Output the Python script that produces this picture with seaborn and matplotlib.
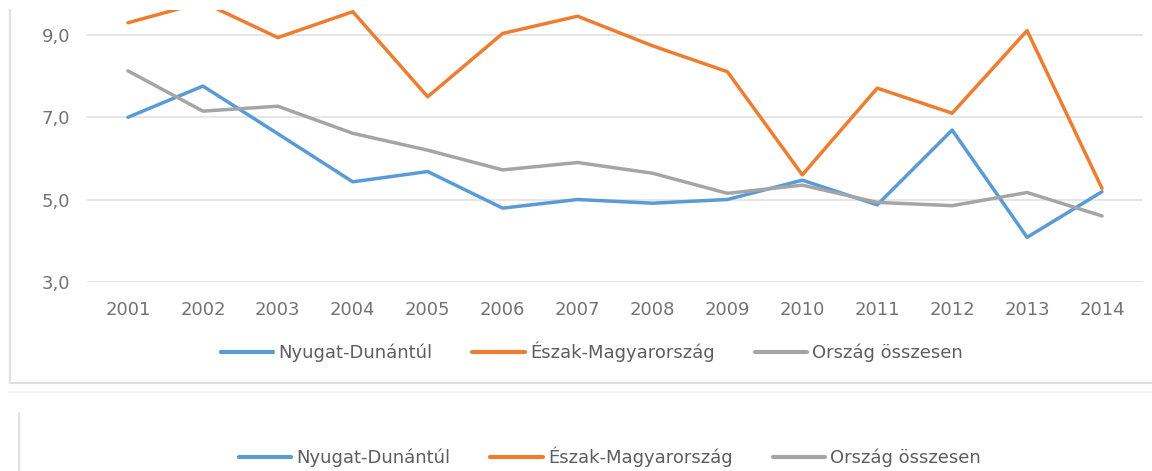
import matplotlib
matplotlib.use("Agg")
import matplotlib.pyplot as plt
from matplotlib.lines import Line2D
import numpy as np
import pandas as pd
import seaborn as sns

# Data: yearly values for two regions and the national total
years = [2001, 2002, 2003, 2004, 2005, 2006, 2007, 2008, 2009, 2010, 2011, 2012, 2013, 2014]
nyugat_dunantul = [7.0, 7.76, 6.6, 5.43, 5.68, 4.79, 5.0, 4.91, 5.0, 5.47, 4.87, 6.69, 4.08, 5.19]
eszak_magyarorszag = [9.3, 9.8, 8.94, 9.57, 7.5, 9.04, 9.46, 8.74, 8.11, 5.6, 7.71, 7.1, 9.11, 5.27]
orszag_osszesen = [8.13, 7.15, 7.27, 6.61, 6.2, 5.72, 5.9, 5.64, 5.15, 5.35, 4.93, 4.85, 5.17, 4.6]

series_names = ["Nyugat-Dunántúl", "Észak-Magyarország", "Ország összesen"]
series_colors = ["#5B9BD5", "#ED7D31", "#A5A5A5"]
y_ticks = [3, 5, 7, 9]

df = pd.concat([
    pd.DataFrame({"év": years, "érték": vals, "sorozat": name})
    for name, vals in zip(series_names, [nyugat_dunantul, eszak_magyarorszag, orszag_osszesen])
], ignore_index=True)

sns.set_theme(style="white")
plt.rcParams["font.family"] = ["DejaVu Sans"]

W, H = 1152, 471
fig = plt.figure(figsize=(W / 100, H / 100), dpi=100)
fig.patch.set_facecolor("white")

# plot area in pixel coordinates
left_px, right_px, top_px, bottom_px = 87, 1143, 10, 281.7
ax = fig.add_axes([left_px / W, 1 - bottom_px / H, (right_px - left_px) / W, (bottom_px - top_px) / H])

palette = dict(zip(series_names, series_colors))
sns.lineplot(data=df, x="év", y="érték", hue="sorozat", hue_order=series_names,
             palette=palette, linewidth=2.5, ax=ax, legend=False, zorder=3)

ax.set_xlim(2000.453, 2014.547)
ax.set_ylim(3, 9.611)
ax.set_xticks(years)
ax.set_xticklabels([str(y) for y in years])
ax.set_yticks(y_ticks)
ax.set_yticklabels([f"{v:.1f}".replace(".", ",") for v in y_ticks])
ax.set_xlabel("")
ax.set_ylabel("")

ax.grid(axis="y", color="#E4E4E4", linewidth=1.3, zorder=0)
ax.grid(axis="x", visible=False)
for s in ax.spines.values():
    s.set_visible(False)
ax.tick_params(axis="x", length=0, pad=14, labelsize=13, labelcolor="#737373")
ax.tick_params(axis="y", length=0, pad=12, labelsize=13, labelcolor="#737373")

# legend entries
handles = [Line2D([0], [0], color=c, linewidth=3) for c in series_colors]
leg_kw = dict(loc="center", ncol=3, frameon=False, fontsize=13, handlelength=2.9,
              handletextpad=0.3, columnspacing=2.2, borderpad=0, labelcolor="#5E5E5E")
leg1 = fig.legend(handles, series_names, bbox_to_anchor=(592 / W, 1 - 352 / H), **leg_kw)
leg2 = fig.legend(handles, series_names, bbox_to_anchor=(610 / W, 1 - 457 / H), **leg_kw)

# chart frames
def px_line(xs, ys, color, lw):
    fig.add_artist(Line2D([x / W for x in xs], [1 - y / H for y in ys],
                          color=color, linewidth=lw, transform=fig.transFigure))

px_line([9.5, 9.5], [10, 383], "#E0E0E0", 1.5)
px_line([9.5, 1152], [383, 383], "#E0E0E0", 1.5)
px_line([8, 1152], [392, 392], "#F2F2F2", 1.2)
px_line([19, 19], [413, 471], "#E0E0E0", 1.5)

fig.savefig("out.png", dpi=100, facecolor="white")
